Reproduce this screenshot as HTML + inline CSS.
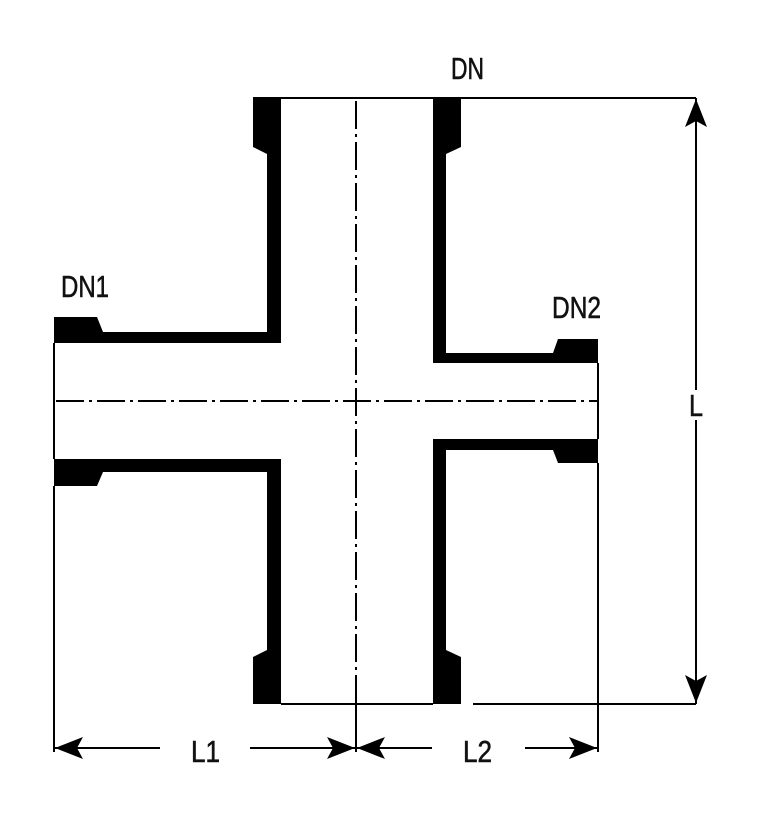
<!DOCTYPE html>
<html><head><meta charset="utf-8"><style>
html,body{margin:0;padding:0;background:#fff;}
svg{display:block;}
text{font-family:"Liberation Sans",sans-serif;font-size:31px;fill:#111;stroke:#111;stroke-width:0.6;}
</style></head><body>
<svg width="760" height="828" viewBox="0 0 760 828" xmlns="http://www.w3.org/2000/svg">
<rect width="760" height="828" fill="#fff"/>
<g fill="#000" stroke="none">
  <polygon points="253,97 281,97 281,343 54,343 54,317 97,317 103,332 267,332 267,154 253,147"/>
  <polygon points="433,97 461,97 461,147 446,154 446,353 553,353 558,339 598,339 598,363 433,363"/>
  <polygon points="54,459 281,459 281,704 253,704 253,657 267,650 267,472 103,472 97,486 54,486"/>
  <polygon points="433,439 598,439 598,463 558,463 553,450 446,450 446,650 461,657 461,704 433,704"/>
</g>
<g stroke="#000" stroke-width="2" fill="none">
  <line x1="281" y1="98" x2="433" y2="98"/>
  <line x1="461" y1="98" x2="696" y2="98"/>
  <line x1="281" y1="704" x2="433" y2="704"/>
  <line x1="473" y1="704" x2="696" y2="704"/>
  <line x1="54" y1="343" x2="54" y2="459"/>
  <line x1="54" y1="486" x2="54" y2="752"/>
  <line x1="598" y1="363" x2="598" y2="439"/>
  <line x1="598" y1="463" x2="598" y2="752"/>
  <line x1="356" y1="704" x2="356" y2="752"/>
  <line x1="696" y1="98" x2="696" y2="704"/>
  <line x1="54" y1="748" x2="160" y2="748"/>
  <line x1="250" y1="748" x2="356" y2="748"/>
  <line x1="356" y1="748" x2="432" y2="748"/>
  <line x1="525" y1="748" x2="598" y2="748"/>
</g>
<g stroke="#000" stroke-width="2" fill="none" stroke-dasharray="28,5,3,5">
  <line x1="356" y1="101" x2="356" y2="704"/>
  <line x1="56" y1="401" x2="598" y2="401"/>
</g>
<g fill="#000">
  <polygon points="696,99 707,127 696,121 685,127"/>
  <polygon points="696,703 707,675 696,681 685,675"/>
  <polygon points="55,748 83,737 77,748 83,759"/>
  <polygon points="355,748 327,737 333,748 327,759"/>
  <polygon points="357,748 385,737 379,748 385,759"/>
  <polygon points="597,748 569,737 575,748 569,759"/>
</g>
<rect x="684" y="390" width="24" height="30" fill="#fff"/>
<text x="451" y="79" textLength="33" lengthAdjust="spacingAndGlyphs">DN</text>
<text x="61" y="297" textLength="48" lengthAdjust="spacingAndGlyphs">DN1</text>
<text x="552" y="318" textLength="49" lengthAdjust="spacingAndGlyphs">DN2</text>
<text x="689" y="416" textLength="14" lengthAdjust="spacingAndGlyphs">L</text>
<text x="191" y="762" textLength="29" lengthAdjust="spacingAndGlyphs">L1</text>
<text x="463" y="762" textLength="29" lengthAdjust="spacingAndGlyphs">L2</text>
</svg>
</body></html>
